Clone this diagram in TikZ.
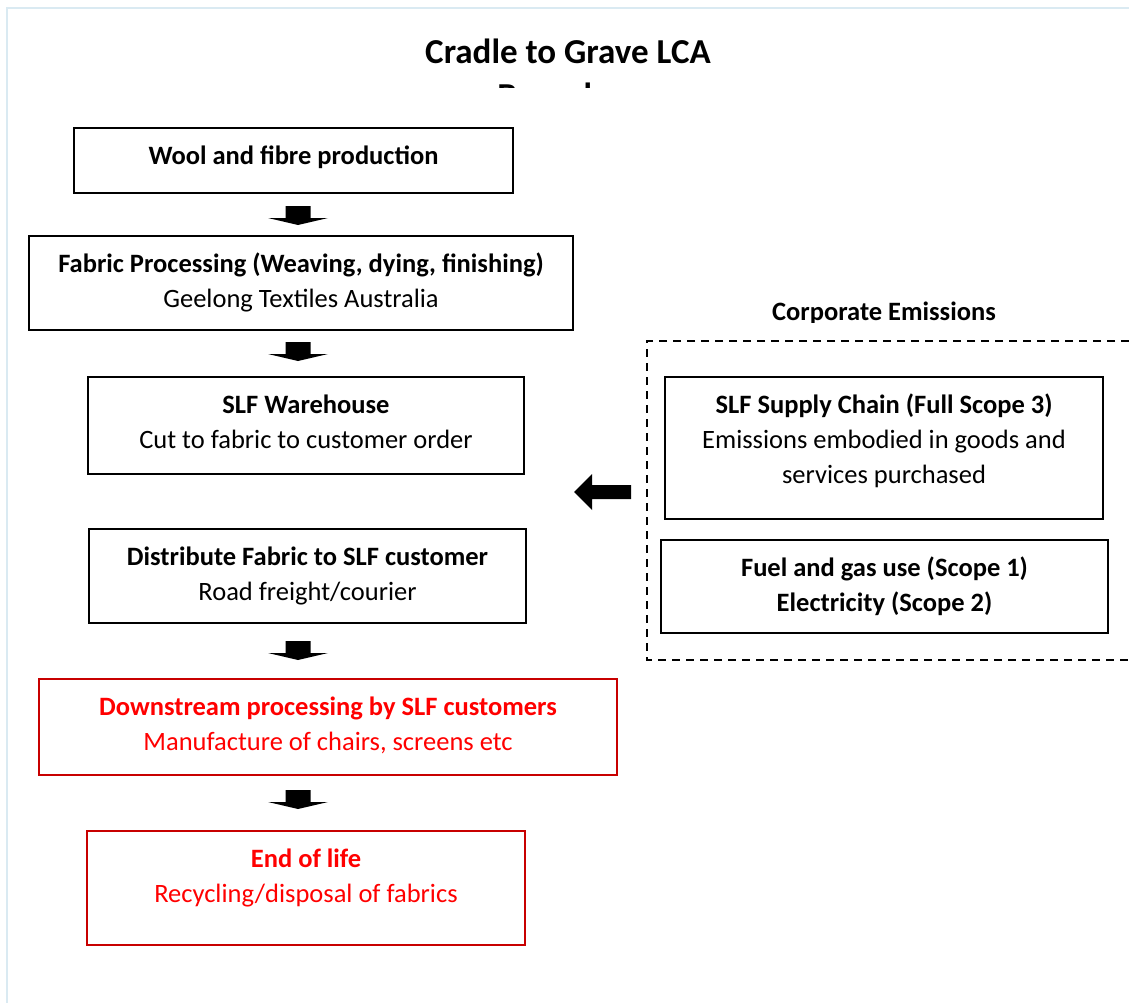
\documentclass[tikz,border=0pt]{standalone}
\usepackage{fontspec}
\setmainfont{Carlito}
\usetikzlibrary{positioning}
\definecolor{frameblue}{RGB}{218,234,242}
\definecolor{boxred}{RGB}{200,0,0}
\definecolor{txtred}{RGB}{255,0,0}

\begin{document}
\begin{tikzpicture}[x=1pt,y=-1pt,
    stagebox/.style={draw, line width=1.6pt, inner sep=0},
    redbox/.style={stagebox, draw=boxred},
    stagetext/.style={font=\fontsize{26.5}{35}\selectfont, align=center, anchor=north, inner sep=0},
    redtext/.style={stagetext, text=txtred}]
	\def\arrowx{298}

	\useasboundingbox (0,0) rectangle (1129,1003);
	\draw[frameblue, line width=2pt] (7,1003) -- (7,8) -- (1129,8);

	\begin{scope}
		\clip (0,0) rectangle (1129,88);
		\node[font=\fontsize{35}{44}\selectfont\bfseries, align=center, anchor=north, inner sep=0] (title) at (568,33) {\strut Cradle to Grave LCA\\Boundary};
	\end{scope}

	\node[stagebox, minimum width=439, minimum height=65] (wool) at (293.5,160.5) {};
	\node[stagetext] (woolt) at ([yshift=-13pt]wool.north) {\strut\textbf{Wool and fibre production}};

	\node[stagebox, minimum width=544, minimum height=94] (fabric) at (301,283) {};
	\node[stagetext] (fabrict) at ([yshift=-13pt]fabric.north) {\strut\textbf{Fabric Processing (Weaving, dying, finishing)}\\Geelong Textiles Australia};

	\node[stagebox, minimum width=436, minimum height=97] (warehouse) at (306,425.5) {};
	\node[stagetext] (warehouset) at ([yshift=-13pt]warehouse.north) {\strut\textbf{SLF Warehouse}\\Cut to fabric to customer order};

	\node[stagebox, minimum width=437, minimum height=94] (distribute) at (307.5,576) {};
	\node[stagetext] (distributet) at ([yshift=-13pt]distribute.north) {\strut\textbf{Distribute Fabric to SLF customer}\\Road freight/courier};

	\node[redbox, minimum width=578, minimum height=96] (downstream) at (328,727) {};
	\node[redtext] (downstreamt) at ([yshift=-13pt]downstream.north) {\strut\textbf{Downstream processing by SLF customers}\\Manufacture of chairs, screens etc};

	\node[redbox, minimum width=438, minimum height=114] (endlife) at (306,888) {};
	\node[redtext] (endlifet) at ([yshift=-13pt]endlife.north) {\strut\textbf{End of life}\\Recycling/disposal of fabrics};

	\foreach \ya in {206,342,641,790} {
		\coordinate (dn\ya) at (\arrowx,\ya);
		\fill (dn\ya) ++(-12.5,0) -- ++(25,0) -- ++(0,12) -- ++(17.5,0) -- ++(-30,7) -- ++(-30,-7) -- ++(17.5,0) -- cycle;
	}

	\begin{scope}
		\clip (640,290) rectangle (1129,322);
		\node[font=\fontsize{26.5}{35}\selectfont\bfseries, anchor=base, inner sep=0] (corporate) at (884,320) {Corporate Emissions};
	\end{scope}
	\draw[dashed, line width=1.6pt, dash pattern=on 8pt off 6pt] (1129,341) -- (647,341) -- (647,660) -- (1129,660);

	\node[stagebox, minimum width=438, minimum height=142] (supply) at (884,448) {};
	\node[stagetext] (supplyt) at ([yshift=-13pt]supply.north) {\strut\textbf{SLF Supply Chain (Full Scope 3)}\\Emissions embodied in goods and\\services purchased};

	\node[stagebox, minimum width=447, minimum height=93] (fuel) at (884.5,586.5) {};
	\node[stagetext] (fuelt) at ([yshift=-13pt]fuel.north) {\strut\textbf{Fuel and gas use (Scope 1)}\\\textbf{Electricity (Scope 2)}};

	\coordinate (lft) at (631,492);
	\fill (lft) ++(0,-7) -- ++(-39,0) -- ++(0,-11) -- ++(-18,18) -- ++(18,18) -- ++(0,-11) -- ++(39,0) -- cycle;
\end{tikzpicture}
\end{document}
